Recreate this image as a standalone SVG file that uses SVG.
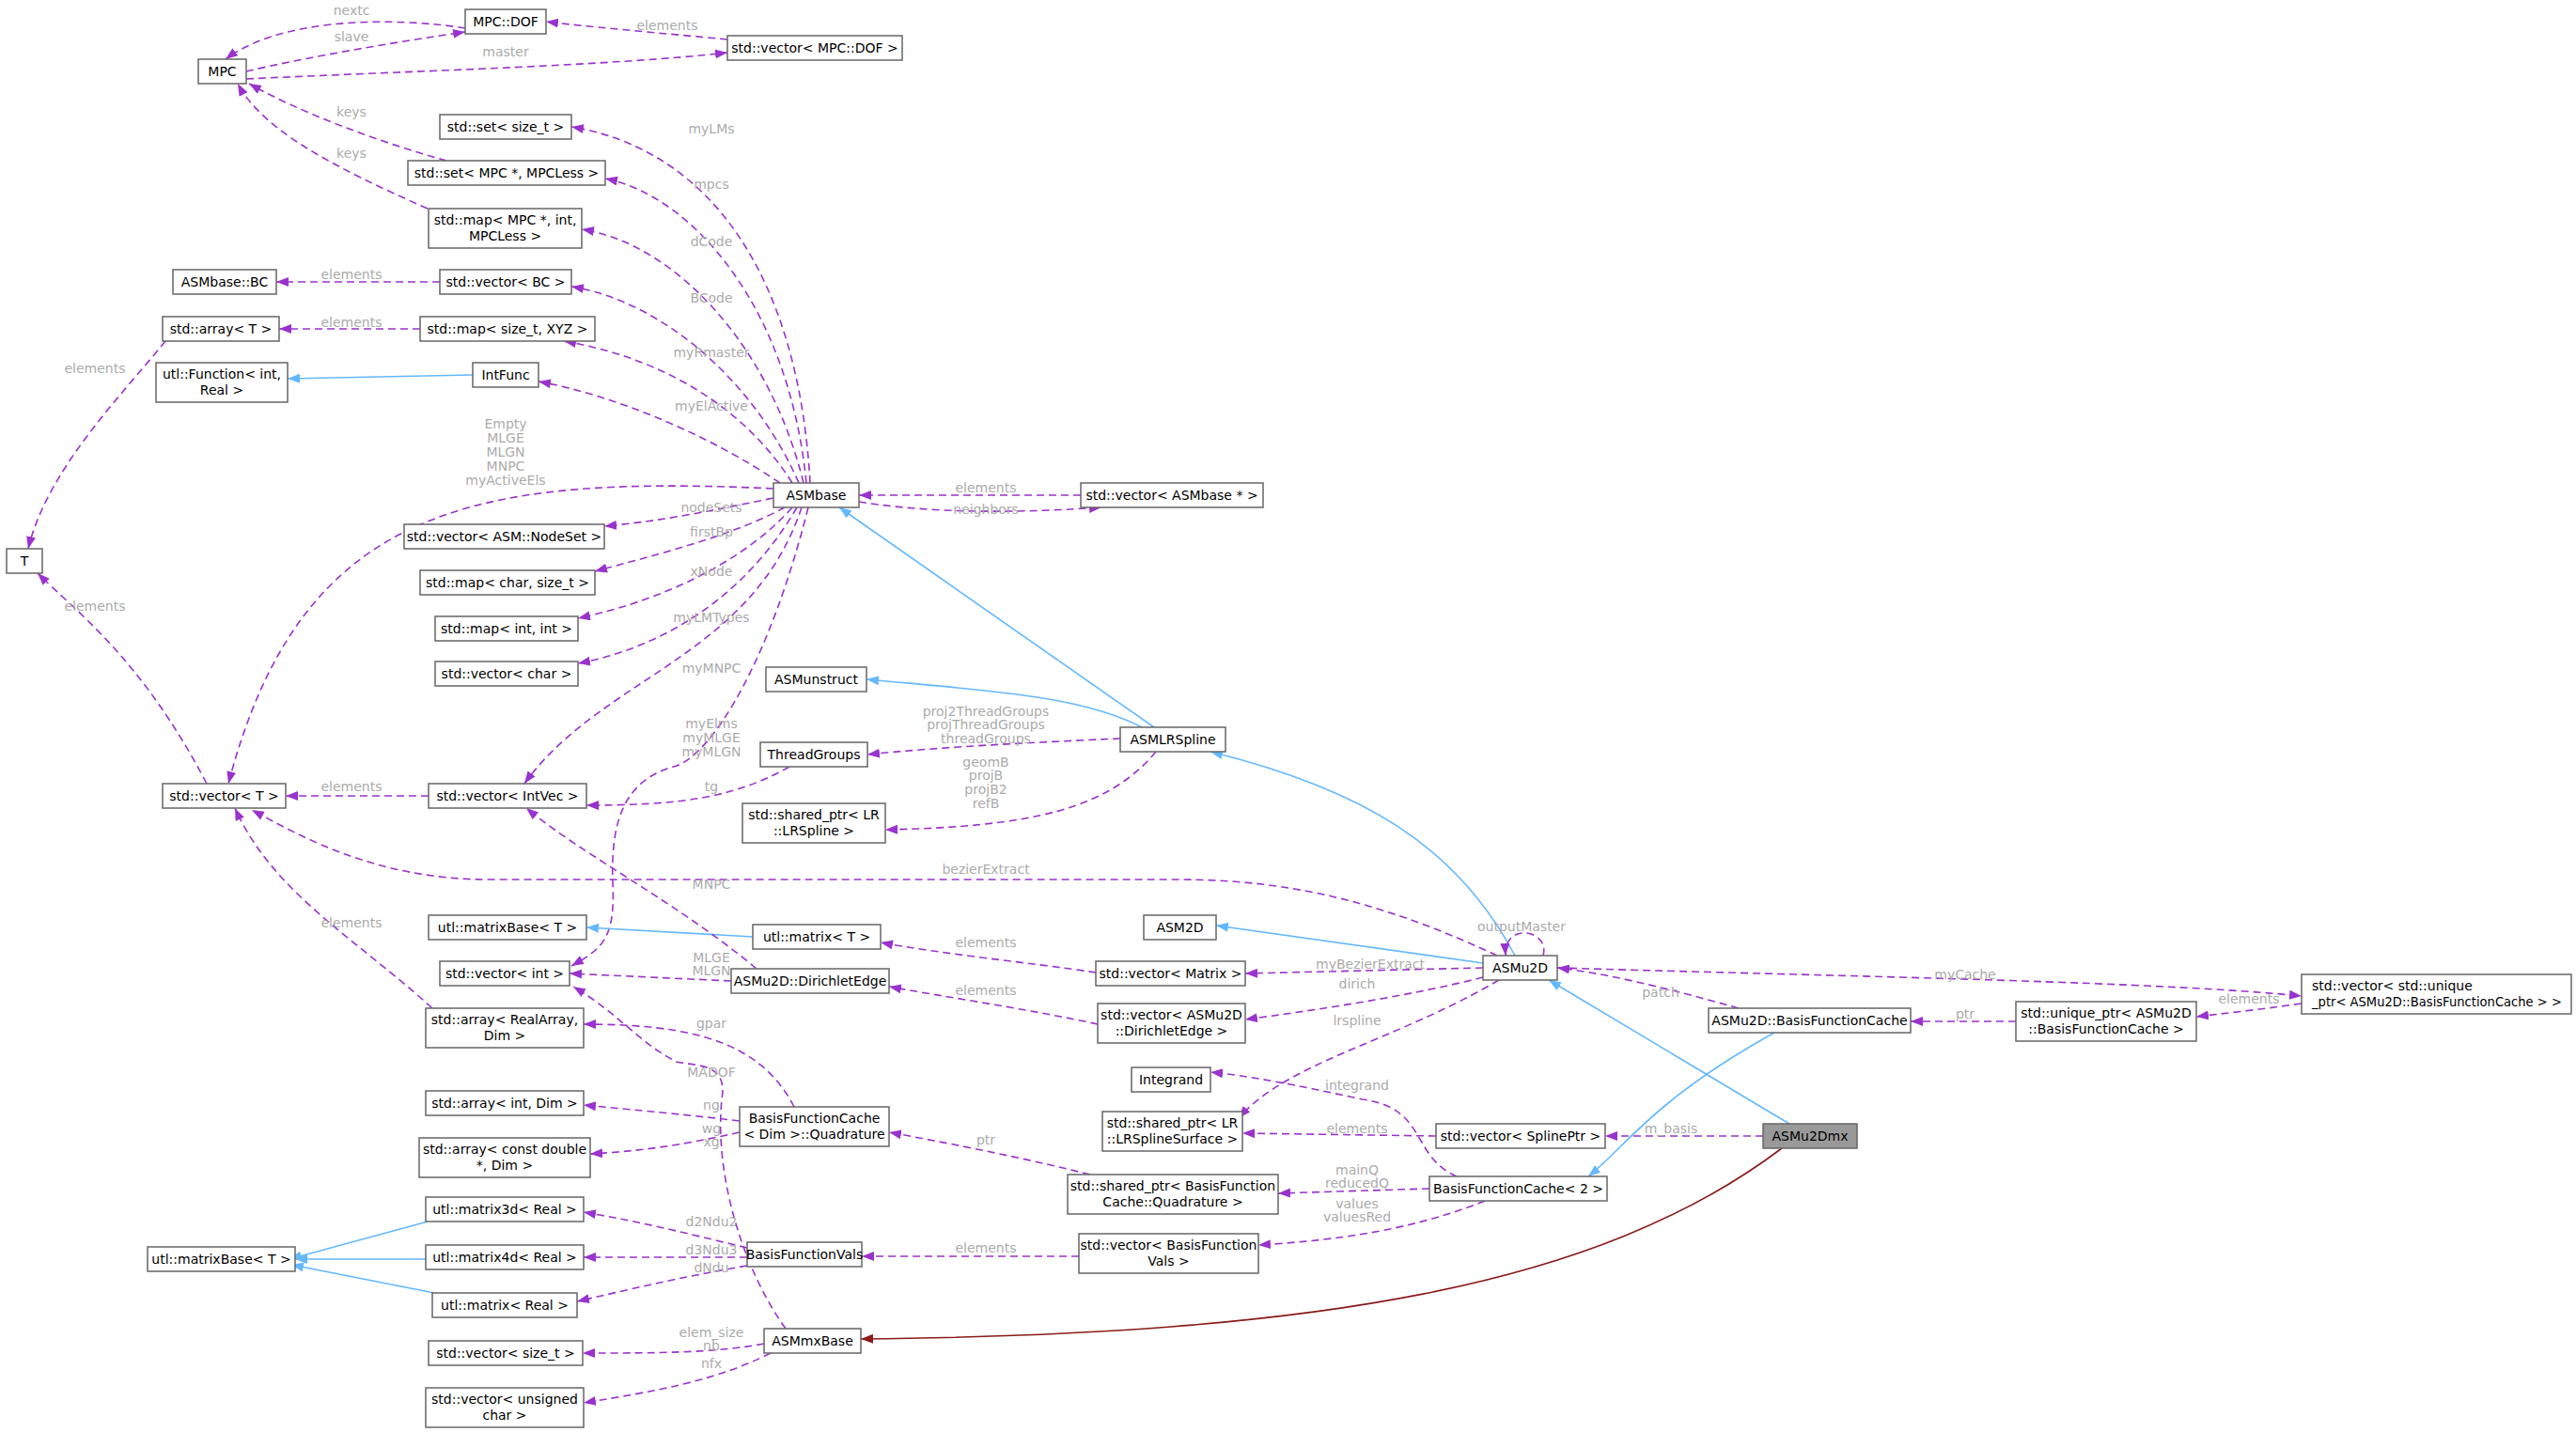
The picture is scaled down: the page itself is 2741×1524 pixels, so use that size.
<svg xmlns="http://www.w3.org/2000/svg" width="2741" height="1524" viewBox="0 0 2741 1524">
<style>
.n rect{fill:#fff;stroke:#666;stroke-width:1.5}
.n text{font-family:"DejaVu Sans",sans-serif;font-size:14px;fill:#000;text-anchor:middle}
.hl rect{fill:#999}
.e path{fill:none;stroke-width:1.6}
.d{stroke:#9A32CD;stroke-dasharray:8,5}
.b{stroke:#63B8FF}
.r{stroke:#8B1A1A}
.l{font-family:"DejaVu Sans",sans-serif;font-size:14px;fill:#ababab;text-anchor:middle}
</style>
<defs>
<marker id="ap" markerUnits="userSpaceOnUse" markerWidth="14" markerHeight="12" refX="13" refY="5" orient="auto"><path d="M0,0L13,5L0,10z" fill="#9A32CD"/></marker>
<marker id="ab" markerUnits="userSpaceOnUse" markerWidth="14" markerHeight="12" refX="13" refY="5" orient="auto"><path d="M0,0L13,5L0,10z" fill="#63B8FF"/></marker>
<marker id="ar" markerUnits="userSpaceOnUse" markerWidth="14" markerHeight="12" refX="13" refY="5" orient="auto"><path d="M0,0L13,5L0,10z" fill="#8B1A1A"/></marker>
</defs>
<rect width="2741" height="1524" fill="#fff"/>
<g id="edges" class="e">
<path class="d" marker-end="url(#ap)" d="M495,30C420,18 300,18 240,63"/>
<path class="d" marker-end="url(#ap)" d="M262,76C330,60 420,45 495,34"/>
<path class="d" marker-end="url(#ap)" d="M262,84C450,75 650,70 774,56"/>
<path class="d" marker-end="url(#ap)" d="M774,42C700,35 620,28 581,23"/>
<path class="d" marker-end="url(#ap)" d="M475,171C400,150 320,120 265,89"/>
<path class="d" marker-end="url(#ap)" d="M455,222C360,180 280,140 253,89"/>
<path class="d" marker-end="url(#ap)" d="M862,514C850,300 760,160 608,135"/>
<path class="d" marker-end="url(#ap)" d="M858,514C840,330 740,210 644,190"/>
<path class="d" marker-end="url(#ap)" d="M855,514C820,370 720,260 619,244"/>
<path class="d" marker-end="url(#ap)" d="M850,514C800,400 700,320 608,305"/>
<path class="d" marker-end="url(#ap)" d="M843,514C790,430 700,380 600,363"/>
<path class="d" marker-end="url(#ap)" d="M830,514C750,460 650,420 573,406"/>
<path class="d" marker-end="url(#ap)" d="M823,520C500,505 320,540 243,834"/>
<path class="d" marker-end="url(#ap)" d="M823,530C750,545 700,555 643,560"/>
<path class="d" marker-end="url(#ap)" d="M835,540C780,570 700,590 633,608"/>
<path class="d" marker-end="url(#ap)" d="M843,540C790,600 700,640 615,658"/>
<path class="d" marker-end="url(#ap)" d="M848,540C790,640 700,690 615,706"/>
<path class="d" marker-end="url(#ap)" d="M853,540C800,700 640,720 558,834"/>
<path class="d" marker-end="url(#ap)" d="M860,540C820,700 760,800 720,815C660,830 650,880 652,940C655,1000 640,1010 608,1028"/>
<path class="d" marker-end="url(#ap)" d="M914,534C1000,548 1100,545 1172,540"/>
<path class="d" marker-end="url(#ap)" d="M1150,527L914,527"/>
<path class="d" marker-end="url(#ap)" d="M468,300L294,300"/>
<path class="d" marker-end="url(#ap)" d="M447,350L297,350"/>
<path class="d" marker-end="url(#ap)" d="M176,363C130,420 50,500 30,584"/>
<path class="d" marker-end="url(#ap)" d="M220,834C150,700 80,650 40,610"/>
<path class="b" marker-end="url(#ab)" d="M503,399L306,403"/>
<path class="d" marker-end="url(#ap)" d="M456,847L304,847"/>
<path class="d" marker-end="url(#ap)" d="M840,816C780,850 720,857 624,857"/>
<path class="d" marker-end="url(#ap)" d="M1192,786C1100,790 1000,795 923,803"/>
<path class="d" marker-end="url(#ap)" d="M1230,800C1180,860 1100,880 942,883"/>
<path class="b" marker-end="url(#ab)" d="M1228,774L893,540"/>
<path class="b" marker-end="url(#ab)" d="M1215,774C1150,740 1050,735 922,723"/>
<path class="d" marker-end="url(#ap)" d="M1593,1017C1450,950 1350,936 1250,936L520,936C400,936 320,890 268,862"/>
<path class="b" marker-end="url(#ab)" d="M1612,1017C1550,900 1450,840 1288,800"/>
<path class="b" marker-end="url(#ab)" d="M1578,1025L1294,985"/>
<path class="d" marker-end="url(#ap)" d="M1642,1017C1650,990 1600,980 1602,1017"/>
<path class="d" marker-end="url(#ap)" d="M1578,1030L1325,1036"/>
<path class="d" marker-end="url(#ap)" d="M1578,1040C1500,1060 1400,1075 1325,1085"/>
<path class="d" marker-end="url(#ap)" d="M1595,1043C1480,1110 1370,1130 1318,1190"/>
<path class="d" marker-end="url(#ap)" d="M1657,1030C2000,1040 2300,1045 2449,1060"/>
<path class="d" marker-end="url(#ap)" d="M1166,1035C1100,1025 1000,1015 937,1003"/>
<path class="b" marker-end="url(#ab)" d="M801,997L624,987"/>
<path class="d" marker-end="url(#ap)" d="M1168,1090C1100,1075 1000,1060 946,1050"/>
<path class="d" marker-end="url(#ap)" d="M778,1044L606,1036"/>
<path class="d" marker-end="url(#ap)" d="M805,1031C720,960 620,910 560,860"/>
<path class="d" marker-end="url(#ap)" d="M460,1073C380,1000 290,950 250,860"/>
<path class="d" marker-end="url(#ap)" d="M845,1178C810,1110 740,1090 621,1090"/>
<path class="d" marker-end="url(#ap)" d="M787,1193C720,1185 660,1180 621,1176"/>
<path class="d" marker-end="url(#ap)" d="M787,1205C720,1220 680,1225 628,1228"/>
<path class="d" marker-end="url(#ap)" d="M836,1414C790,1350 760,1250 768,1170C775,1130 740,1135 720,1130C680,1110 660,1080 610,1050"/>
<path class="d" marker-end="url(#ap)" d="M813,1430C760,1440 700,1440 620,1440"/>
<path class="d" marker-end="url(#ap)" d="M820,1440C760,1470 700,1480 621,1493"/>
<path class="d" marker-end="url(#ap)" d="M1160,1250C1080,1230 1000,1215 946,1205"/>
<path class="d" marker-end="url(#ap)" d="M1521,1265L1360,1270"/>
<path class="d" marker-end="url(#ap)" d="M1580,1278C1500,1310 1420,1320 1339,1325"/>
<path class="d" marker-end="url(#ap)" d="M1550,1252C1500,1230 1520,1180 1450,1170C1380,1155 1330,1145 1288,1141"/>
<path class="d" marker-end="url(#ap)" d="M1148,1337L917,1337"/>
<path class="d" marker-end="url(#ap)" d="M795,1328C720,1310 680,1300 621,1290"/>
<path class="d" marker-end="url(#ap)" d="M795,1338L621,1338"/>
<path class="d" marker-end="url(#ap)" d="M795,1347C720,1360 680,1370 614,1385"/>
<path class="b" marker-end="url(#ab)" d="M455,1300L308,1340"/>
<path class="b" marker-end="url(#ab)" d="M453,1340L314,1340"/>
<path class="b" marker-end="url(#ab)" d="M462,1376L310,1346"/>
<path class="d" marker-end="url(#ap)" d="M1850,1073C1750,1045 1700,1035 1657,1030"/>
<path class="b" marker-end="url(#ab)" d="M1888,1099C1760,1170 1730,1220 1690,1252"/>
<path class="d" marker-end="url(#ap)" d="M2145,1087L2033,1087"/>
<path class="d" marker-end="url(#ap)" d="M2449,1068C2400,1075 2370,1078 2337,1082"/>
<path class="d" marker-end="url(#ap)" d="M1876,1209L1708,1209"/>
<path class="d" marker-end="url(#ap)" d="M1528,1209L1322,1206"/>
<path class="b" marker-end="url(#ab)" d="M1904,1196L1648,1043"/>
<path class="r" marker-end="url(#ar)" d="M1896,1222C1700,1370 1400,1420 916,1425"/>
</g>
<g id="labels">
<text class="l" x="374" y="16">nextc</text>
<text class="l" x="374" y="44">slave</text>
<text class="l" x="538" y="60">master</text>
<text class="l" x="710" y="32">elements</text>
<text class="l" x="374" y="124">keys</text>
<text class="l" x="374" y="168">keys</text>
<text class="l" x="757" y="142">myLMs</text>
<text class="l" x="757" y="201">mpcs</text>
<text class="l" x="757" y="262">dCode</text>
<text class="l" x="757" y="322">BCode</text>
<text class="l" x="757" y="380">myRmaster</text>
<text class="l" x="757" y="437">myElActive</text>
<text class="l" x="538" y="456">Empty</text>
<text class="l" x="538" y="471">MLGE</text>
<text class="l" x="538" y="486">MLGN</text>
<text class="l" x="538" y="501">MNPC</text>
<text class="l" x="538" y="516">myActiveEls</text>
<text class="l" x="374" y="297">elements</text>
<text class="l" x="374" y="348">elements</text>
<text class="l" x="101" y="397">elements</text>
<text class="l" x="757" y="545">nodeSets</text>
<text class="l" x="757" y="571">firstBp</text>
<text class="l" x="757" y="613">xNode</text>
<text class="l" x="757" y="662">myLMTypes</text>
<text class="l" x="757" y="716">myMNPC</text>
<text class="l" x="757" y="775">myElms</text>
<text class="l" x="757" y="790">myMLGE</text>
<text class="l" x="757" y="805">myMLGN</text>
<text class="l" x="101" y="650">elements</text>
<text class="l" x="374" y="842">elements</text>
<text class="l" x="757" y="842">tg</text>
<text class="l" x="1049" y="762">proj2ThreadGroups</text>
<text class="l" x="1049" y="776">projThreadGroups</text>
<text class="l" x="1049" y="791">threadGroups</text>
<text class="l" x="1049" y="816">geomB</text>
<text class="l" x="1049" y="830">projB</text>
<text class="l" x="1049" y="845">projB2</text>
<text class="l" x="1049" y="860">refB</text>
<text class="l" x="1049" y="524">elements</text>
<text class="l" x="1049" y="547">neighbors</text>
<text class="l" x="1049" y="930">bezierExtract</text>
<text class="l" x="757" y="946">MNPC</text>
<text class="l" x="374" y="987">elements</text>
<text class="l" x="757" y="1024">MLGE</text>
<text class="l" x="757" y="1038">MLGN</text>
<text class="l" x="1049" y="1008">elements</text>
<text class="l" x="1049" y="1059">elements</text>
<text class="l" x="1458" y="1031">myBezierExtract</text>
<text class="l" x="1444" y="1052">dirich</text>
<text class="l" x="1444" y="1091">lrspline</text>
<text class="l" x="1619" y="991">outputMaster</text>
<text class="l" x="1767" y="1061">patch</text>
<text class="l" x="2091" y="1042">myCache</text>
<text class="l" x="2393" y="1068">elements</text>
<text class="l" x="2091" y="1084">ptr</text>
<text class="l" x="757" y="1094">gpar</text>
<text class="l" x="757" y="1146">MADOF</text>
<text class="l" x="757" y="1181">ng</text>
<text class="l" x="757" y="1206">wg</text>
<text class="l" x="757" y="1220">xg</text>
<text class="l" x="1444" y="1160">integrand</text>
<text class="l" x="1444" y="1206">elements</text>
<text class="l" x="1778" y="1206">m_basis</text>
<text class="l" x="1049" y="1218">ptr</text>
<text class="l" x="1444" y="1250">mainQ</text>
<text class="l" x="1444" y="1264">reducedQ</text>
<text class="l" x="1444" y="1286">values</text>
<text class="l" x="1444" y="1300">valuesRed</text>
<text class="l" x="1049" y="1333">elements</text>
<text class="l" x="757" y="1305">d2Ndu2</text>
<text class="l" x="757" y="1335">d3Ndu3</text>
<text class="l" x="757" y="1354">dNdu</text>
<text class="l" x="757" y="1423">elem_size</text>
<text class="l" x="757" y="1437">nb</text>
<text class="l" x="757" y="1456">nfx</text>
</g>
<g id="MPC" class="n"><rect x="211" y="63" width="51" height="26"/><text x="236.5" y="81">MPC</text></g>
<g id="MPCDOF" class="n"><rect x="495" y="10" width="86" height="26"/><text x="538" y="28">MPC::DOF</text></g>
<g id="vecMPCDOF" class="n"><rect x="774" y="38" width="186" height="26"/><text x="867" y="56">std::vector&lt; MPC::DOF &gt;</text></g>
<g id="setsize" class="n"><rect x="468" y="122" width="140" height="26"/><text x="538" y="140">std::set&lt; size_t &gt;</text></g>
<g id="setMPC" class="n"><rect x="434" y="171" width="210" height="26"/><text x="539" y="189">std::set&lt; MPC *, MPCLess &gt;</text></g>
<g id="mapMPC" class="n"><rect x="456" y="222" width="163" height="42"/><text x="537.5" y="239">std::map&lt; MPC *, int,</text><text x="537.5" y="256">MPCLess &gt;</text></g>
<g id="ASMbaseBC" class="n"><rect x="184" y="287" width="110" height="26"/><text x="239" y="305">ASMbase::BC</text></g>
<g id="vecBC" class="n"><rect x="468" y="287" width="140" height="26"/><text x="538" y="305">std::vector&lt; BC &gt;</text></g>
<g id="arrayT" class="n"><rect x="173" y="337" width="124" height="26"/><text x="235" y="355">std::array&lt; T &gt;</text></g>
<g id="mapXYZ" class="n"><rect x="447" y="337" width="186" height="26"/><text x="540" y="355">std::map&lt; size_t, XYZ &gt;</text></g>
<g id="utlFunction" class="n"><rect x="166" y="386" width="140" height="42"/><text x="236" y="403">utl::Function&lt; int,</text><text x="236" y="420">Real &gt;</text></g>
<g id="IntFunc" class="n"><rect x="503" y="386" width="70" height="26"/><text x="538" y="404">IntFunc</text></g>
<g id="T" class="n"><rect x="7" y="584" width="38" height="26"/><text x="26" y="602">T</text></g>
<g id="ASMbase" class="n"><rect x="823" y="514" width="91" height="26"/><text x="868.5" y="532">ASMbase</text></g>
<g id="vecASMbase" class="n"><rect x="1150" y="514" width="194" height="26"/><text x="1247" y="532">std::vector&lt; ASMbase * &gt;</text></g>
<g id="vecNodeSet" class="n"><rect x="430" y="558" width="213" height="26"/><text x="536.5" y="576">std::vector&lt; ASM::NodeSet &gt;</text></g>
<g id="mapchar" class="n"><rect x="447" y="607" width="186" height="26"/><text x="540" y="625">std::map&lt; char, size_t &gt;</text></g>
<g id="mapint" class="n"><rect x="463" y="656" width="152" height="26"/><text x="539" y="674">std::map&lt; int, int &gt;</text></g>
<g id="vecchar" class="n"><rect x="463" y="704" width="152" height="26"/><text x="539" y="722">std::vector&lt; char &gt;</text></g>
<g id="ASMunstruct" class="n"><rect x="815" y="710" width="107" height="26"/><text x="868.5" y="728">ASMunstruct</text></g>
<g id="ThreadGroups" class="n"><rect x="809" y="790" width="114" height="26"/><text x="866" y="808">ThreadGroups</text></g>
<g id="ASMLRSpline" class="n"><rect x="1192" y="774" width="112" height="26"/><text x="1248" y="792">ASMLRSpline</text></g>
<g id="vecT" class="n"><rect x="173" y="834" width="131" height="26"/><text x="238.5" y="852">std::vector&lt; T &gt;</text></g>
<g id="vecIntVec" class="n"><rect x="456" y="834" width="168" height="26"/><text x="540" y="852">std::vector&lt; IntVec &gt;</text></g>
<g id="sharedLRSpline" class="n"><rect x="790" y="855" width="152" height="42"/><text x="866" y="872">std::shared_ptr&lt; LR</text><text x="866" y="889">::LRSpline &gt;</text></g>
<g id="matrixBaseT1" class="n"><rect x="456" y="974" width="168" height="26"/><text x="540" y="992">utl::matrixBase&lt; T &gt;</text></g>
<g id="matrixT" class="n"><rect x="801" y="984" width="136" height="26"/><text x="869" y="1002">utl::matrix&lt; T &gt;</text></g>
<g id="vecint" class="n"><rect x="468" y="1023" width="138" height="26"/><text x="537" y="1041">std::vector&lt; int &gt;</text></g>
<g id="DirichletEdge" class="n"><rect x="778" y="1031" width="168" height="26"/><text x="862" y="1049">ASMu2D::DirichletEdge</text></g>
<g id="arrayRealArray" class="n"><rect x="453" y="1073" width="168" height="42"/><text x="537" y="1090">std::array&lt; RealArray,</text><text x="537" y="1107">Dim &gt;</text></g>
<g id="ASM2D" class="n"><rect x="1217" y="974" width="77" height="26"/><text x="1255.5" y="992">ASM2D</text></g>
<g id="ASMu2D" class="n"><rect x="1578" y="1017" width="79" height="26"/><text x="1617.5" y="1035">ASMu2D</text></g>
<g id="vecMatrix" class="n"><rect x="1166" y="1023" width="159" height="26"/><text x="1245.5" y="1041">std::vector&lt; Matrix &gt;</text></g>
<g id="vecDirichletEdge" class="n"><rect x="1168" y="1068" width="157" height="42"/><text x="1246.5" y="1085">std::vector&lt; ASMu2D</text><text x="1246.5" y="1102">::DirichletEdge &gt;</text></g>
<g id="Integrand" class="n"><rect x="1204" y="1136" width="84" height="26"/><text x="1246" y="1154">Integrand</text></g>
<g id="sharedLRSS" class="n"><rect x="1173" y="1183" width="149" height="42"/><text x="1247.5" y="1200">std::shared_ptr&lt; LR</text><text x="1247.5" y="1217">::LRSplineSurface &gt;</text></g>
<g id="arrayIntDim" class="n"><rect x="453" y="1161" width="168" height="26"/><text x="537" y="1179">std::array&lt; int, Dim &gt;</text></g>
<g id="Quadrature" class="n"><rect x="787" y="1178" width="159" height="42"/><text x="866.5" y="1195">BasisFunctionCache</text><text x="866.5" y="1212">&lt; Dim &gt;::Quadrature</text></g>
<g id="arrayConstDouble" class="n"><rect x="446" y="1211" width="182" height="42"/><text x="537" y="1228">std::array&lt; const double</text><text x="537" y="1245">*, Dim &gt;</text></g>
<g id="sharedQuad" class="n"><rect x="1136" y="1250" width="224" height="42"/><text x="1248" y="1267">std::shared_ptr&lt; BasisFunction</text><text x="1248" y="1284">Cache::Quadrature &gt;</text></g>
<g id="BFC2" class="n"><rect x="1521" y="1252" width="189" height="26"/><text x="1615.5" y="1270">BasisFunctionCache&lt; 2 &gt;</text></g>
<g id="vecSplinePtr" class="n"><rect x="1528" y="1196" width="180" height="26"/><text x="1618" y="1214">std::vector&lt; SplinePtr &gt;</text></g>
<g id="ASMu2DBFC" class="n"><rect x="1818" y="1073" width="215" height="26"/><text x="1925.5" y="1091">ASMu2D::BasisFunctionCache</text></g>
<g id="uniqueBFC" class="n"><rect x="2145" y="1066" width="192" height="42"/><text x="2241" y="1083">std::unique_ptr&lt; ASMu2D</text><text x="2241" y="1100">::BasisFunctionCache &gt;</text></g>
<g id="vecUnique" class="n"><rect x="2449" y="1037" width="287" height="42"/><text x="2460" y="1054" style="text-anchor:start">std::vector&lt; std::unique</text><text x="2460" y="1071" style="text-anchor:start" textLength="266" lengthAdjust="spacingAndGlyphs">_ptr&lt; ASMu2D::BasisFunctionCache &gt; &gt;</text></g>
<g id="ASMu2Dmx" class="n hl"><rect x="1876" y="1196" width="100" height="26"/><text x="1926" y="1214">ASMu2Dmx</text></g>
<g id="matrix3d" class="n"><rect x="453" y="1274" width="168" height="26"/><text x="537" y="1292">utl::matrix3d&lt; Real &gt;</text></g>
<g id="matrixBaseT2" class="n"><rect x="157" y="1327" width="157" height="26"/><text x="235.5" y="1345">utl::matrixBase&lt; T &gt;</text></g>
<g id="matrix4d" class="n"><rect x="453" y="1325" width="168" height="26"/><text x="537" y="1343">utl::matrix4d&lt; Real &gt;</text></g>
<g id="matrixReal" class="n"><rect x="460" y="1376" width="154" height="26"/><text x="537" y="1394">utl::matrix&lt; Real &gt;</text></g>
<g id="BasisFunctionVals" class="n"><rect x="795" y="1322" width="122" height="26"/><text x="856" y="1340">BasisFunctionVals</text></g>
<g id="vecBFVals" class="n"><rect x="1148" y="1313" width="191" height="42"/><text x="1243.5" y="1330">std::vector&lt; BasisFunction</text><text x="1243.5" y="1347">Vals &gt;</text></g>
<g id="ASMmxBase" class="n"><rect x="813" y="1414" width="103" height="26"/><text x="864.5" y="1432">ASMmxBase</text></g>
<g id="vecsize" class="n"><rect x="456" y="1427" width="164" height="26"/><text x="538" y="1445">std::vector&lt; size_t &gt;</text></g>
<g id="vecuchar" class="n"><rect x="453" y="1477" width="168" height="42"/><text x="537" y="1494">std::vector&lt; unsigned</text><text x="537" y="1511">char &gt;</text></g>
</svg>
